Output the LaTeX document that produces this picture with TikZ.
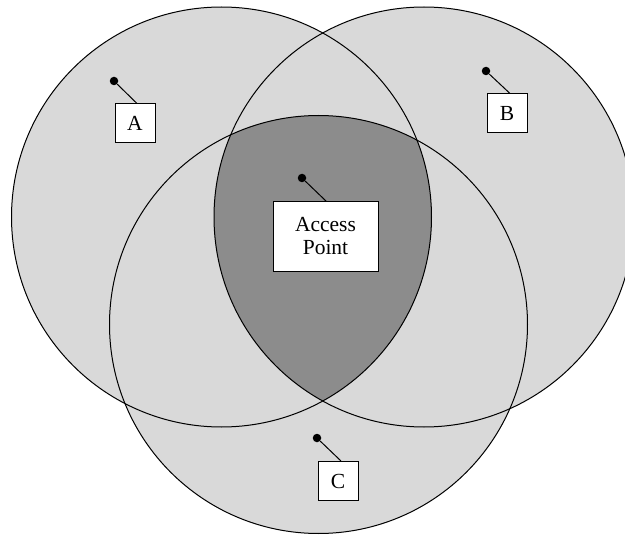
\documentclass[tikz,border=0pt]{standalone}
\usepackage{fontspec}
\setmainfont{Liberation Serif}
\begin{document}
\begin{tikzpicture}[x=1pt,y=-1pt,
  zone/.style={draw=black,line width=1pt},
  label box/.style={draw=black,fill=white,line width=1pt,inner sep=0pt,
    minimum width=40pt,minimum height=39pt,align=center,
    font=\fontsize{21.5pt}{23pt}\selectfont},
  pin dot/.style={circle,fill=black,inner sep=0pt,minimum size=8.5pt},
  pin line/.style={line width=1pt}]
  \definecolor{zonegray}{RGB}{217,217,217}
  \definecolor{coregray}{RGB}{140,140,140}
  \useasboundingbox (0,0) rectangle (625,535);
  \clip (0,0) rectangle (625,535);

  % circle centres
  \coordinate (cA) at (221.5,217);
  \coordinate (cB) at (424,217);
  \coordinate (cC) at (318.5,324.5);

  % coverage areas
  \fill[zonegray] (cA) circle[radius=210pt];
  \fill[zonegray] (cB) circle[radius=210pt];
  \fill[zonegray] (cC) circle[radius=209pt];

  % common area of all three
  \begin{scope}
    \clip (cA) circle[radius=210pt];
    \clip (cB) circle[radius=210pt];
    \fill[coregray] (cC) circle[radius=209pt];
  \end{scope}

  \draw[zone] (cA) circle[radius=210pt];
  \draw[zone] (cB) circle[radius=210pt];
  \draw[zone] (cC) circle[radius=209pt];

  % stations and their labels
  \node[pin dot] (dA) at (114,81) {};
  \node[label box] (bA) at (135,123.5) {A};
  \draw[pin line] (dA) -- ([xshift=2pt]bA.north);

  \node[pin dot] (dB) at (486,71) {};
  \node[label box] (bB) at (507,113.5) {B};
  \draw[pin line] (dB) -- ([xshift=3pt]bB.north);

  \node[pin dot] (dC) at (317,438) {};
  \node[label box] (bC) at (338,481) {C};
  \draw[pin line] (dC) -- ([xshift=3pt]bC.north);

  \node[pin dot] (dP) at (302,178) {};
  \node[label box,minimum width=105pt,minimum height=69pt] (bP) at (325.5,236.5) {Access\\Point};
  \draw[pin line] (dP) -- ([xshift=1pt]bP.north);
\end{tikzpicture}
\end{document}
